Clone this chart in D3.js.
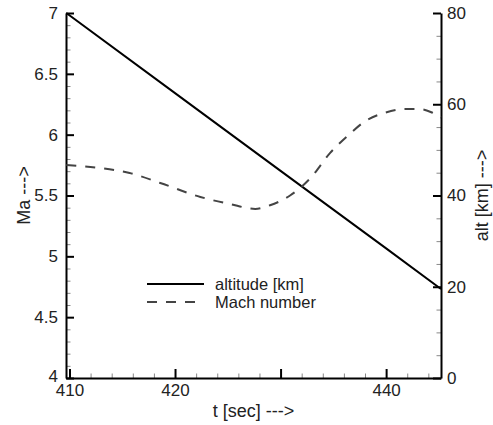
<!DOCTYPE html>
<html>
<head>
<meta charset="utf-8">
<script src="https://cdn.jsdelivr.net/npm/d3@7"></script>
<style>
  body { margin: 0; background: #fff; }
  text { font-family: "Liberation Sans", Arial, sans-serif; fill: #222; }
</style>
</head>
<body>
<div id="chart"></div>
<script>
// time [sec] and altitude [km] (straight descent)
var altTime = [409.7, 420, 430, 440, 445.2]
var altValues = [80, 62.45, 45.4, 28.4, 19.5]

// Mach number along the same time span
var machTime = [409.7, 412.9, 415.7, 418.6, 422.4, 425.2, 427.6, 429.0, 430.9, 432.8, 434.7, 436.6, 438.0, 439.9, 441.8, 443.2, 444.4, 445.2]
var machValues = [5.75, 5.726, 5.685, 5.603, 5.488, 5.43, 5.39, 5.42, 5.5, 5.64, 5.85, 6.01, 6.11, 6.18, 6.21, 6.21, 6.18, 6.14]

var xTicks = [410, 420, 430, 440]
var xTickLabels = ["410", "420", "", "440"]   // 430 label hidden under the title in the original
var maTicks = [4, 4.5, 5, 5.5, 6, 6.5, 7]
var altTicks = [0, 20, 40, 60, 80]
var legendLabels = ["altitude [km]", "Mach number"]

var width = 493, height = 425
var plot = {left: 66, right: 441, top: 13, bottom: 378}

var svg = d3.select("#chart").append("svg")
    .attr("width", width)
    .attr("height", height)

var x = d3.scaleLinear().domain([409.67, 445.2]).range([plot.left, plot.right])
var yMa = d3.scaleLinear().domain([4, 7]).range([plot.bottom, plot.top])
var yAlt = d3.scaleLinear().domain([0, 80]).range([plot.bottom, plot.top])

// minor ticks first, then major ticks (all pointing inward)
function minorAxis(axis, scale, values) {
    return axis(scale).tickValues(values).tickSize(-4.5).tickFormat("")
}

var xMinor = d3.range(410, 446, 2).filter(function(d){ return d % 10 != 0 })
var maMinor = d3.range(40, 71, 1).map(function(d){ return d / 10 }).filter(function(d){ return Math.round(d * 10) % 5 != 0 })
var altMinor = d3.range(5, 80, 5).filter(function(d){ return d % 20 != 0 })

svg.append("g").attr("class", "minor").attr("transform", "translate(0," + plot.bottom + ")")
    .call(minorAxis(d3.axisBottom, x, xMinor))
svg.append("g").attr("class", "minor").attr("transform", "translate(" + plot.left + ",0)")
    .call(minorAxis(d3.axisLeft, yMa, maMinor))
svg.append("g").attr("class", "minor").attr("transform", "translate(" + plot.right + ",0)")
    .call(minorAxis(d3.axisRight, yAlt, altMinor))

svg.selectAll(".minor path").remove()
svg.selectAll(".minor line").attr("stroke", "#888").attr("stroke-width", 1)

var xAxis = svg.append("g").attr("transform", "translate(0," + plot.bottom + ")")
    .call(d3.axisBottom(x).tickValues(xTicks).tickSize(-9).tickPadding(6).tickSizeOuter(0)
        .tickFormat(function(d, i){ return xTickLabels[i] }))
var maAxis = svg.append("g").attr("transform", "translate(" + plot.left + ",0)")
    .call(d3.axisLeft(yMa).tickValues(maTicks).tickSize(-8).tickPadding(8).tickSizeOuter(0)
        .tickFormat(function(d){ return String(d) }))
var altAxis = svg.append("g").attr("transform", "translate(" + plot.right + ",0)")
    .call(d3.axisRight(yAlt).tickValues(altTicks).tickSize(-8).tickPadding(6).tickSizeOuter(0))

;[xAxis, maAxis, altAxis].forEach(function(a){
    a.select(".domain").attr("stroke", "#000").attr("stroke-width", 2)
    a.selectAll(".tick line").attr("stroke", "#000").attr("stroke-width", 2)
    a.selectAll("text").attr("font-size", 17).attr("fill", "#222")
        .style("font-family", "'Liberation Sans', Arial, sans-serif")
})
maAxis.selectAll(".tick text").filter(function(d){ return d == 4 }).attr("dy", "0.2em")

// data lines
var altLine = d3.line()
    .x(function(d){ return x(d[0]) })
    .y(function(d){ return yAlt(d[1]) })
var machLine = d3.line()
    .x(function(d){ return x(d[0]) })
    .y(function(d){ return yMa(d[1]) })
    .curve(d3.curveMonotoneX)

svg.append("path")
    .datum(altTime.map(function(t, i){ return [t, altValues[i]] }))
    .attr("d", altLine)
    .attr("fill", "none")
    .attr("stroke", "#000")
    .attr("stroke-width", 2)

svg.append("path")
    .datum(machTime.map(function(t, i){ return [t, machValues[i]] }))
    .attr("d", machLine)
    .attr("fill", "none")
    .attr("stroke", "#444")
    .attr("stroke-width", 2)
    .attr("stroke-dasharray", "10,9")

// legend
var legend = svg.append("g").attr("transform", "translate(147,284)")
legendLabels.forEach(function(label, i){
    var row = legend.append("g").attr("transform", "translate(0," + (i * 18) + ")")
    row.append("line")
        .attr("x1", 0).attr("x2", 57)
        .attr("stroke", i == 0 ? "#000" : "#444")
        .attr("stroke-width", 2)
        .attr("stroke-dasharray", i == 0 ? null : "10,9")
    row.append("text")
        .attr("x", 68).attr("dy", "0.35em")
        .attr("font-size", 16.5)
        .text(label)
})

// axis titles
svg.append("text")
    .attr("x", (plot.left + plot.right) / 2).attr("y", 417)
    .attr("text-anchor", "middle")
    .attr("font-size", 18)
    .text("t [sec] --->")

svg.append("text")
    .attr("transform", "translate(30," + ((plot.top + plot.bottom) / 2) + ") rotate(-90)")
    .attr("text-anchor", "middle")
    .attr("font-size", 18)
    .text("Ma --->")

svg.append("text")
    .attr("transform", "translate(488," + ((plot.top + plot.bottom) / 2) + ") rotate(-90)")
    .attr("text-anchor", "middle")
    .attr("font-size", 18)
    .text("alt [km] --->")
</script>
</body>
</html>
